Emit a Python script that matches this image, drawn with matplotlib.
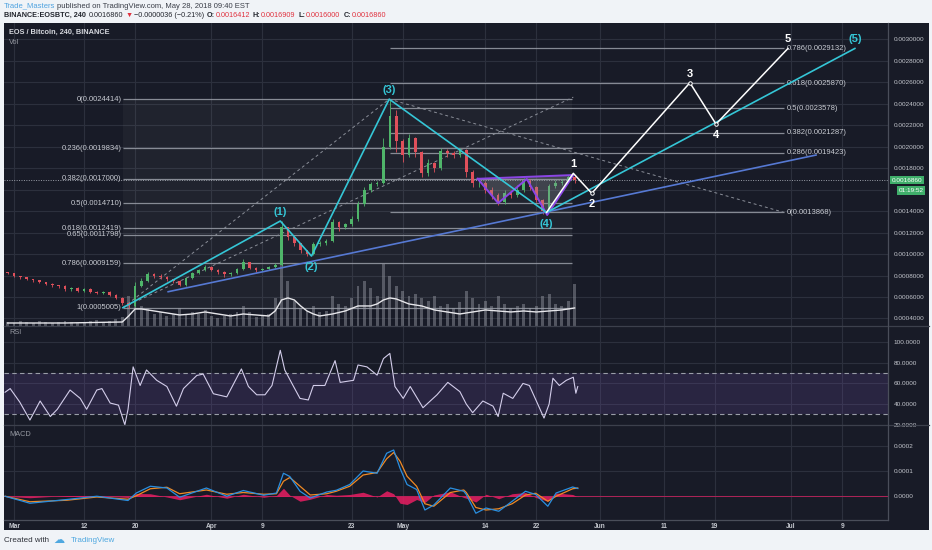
import matplotlib
matplotlib.use("Agg")
import matplotlib.pyplot as plt
from matplotlib.patches import Rectangle, Polygon
from matplotlib.lines import Line2D
import numpy as np

plt.rcParams['font.family'] = ['Liberation Sans', 'DejaVu Sans']

# ---- price data (one candle per day, day 0 = Mar 1 2018) ----
days = list(range(-1, 89))
first_open = 0.00083
closes = [0.00082, 0.00080, 0.00079, 0.00077, 0.00076, 0.00074, 0.00072, 0.00071, 0.00070, 0.00067,
          0.00068, 0.00066, 0.00067, 0.00065, 0.00064, 0.00065, 0.00062, 0.00059, 0.00054, 0.00052,
          0.00070, 0.00075, 0.00081, 0.00080, 0.00079, 0.00077, 0.00075, 0.00071, 0.00078, 0.00082,
          0.00085, 0.00088, 0.00085, 0.00083, 0.00081, 0.00082, 0.00086, 0.00093, 0.00087, 0.00085,
          0.00086, 0.00088, 0.00090, 0.00125, 0.00116, 0.00110, 0.00104, 0.00100, 0.00109, 0.00110,
          0.00112, 0.00130, 0.00125, 0.00128, 0.00133, 0.00147, 0.00160, 0.00165, 0.00166, 0.00200,
          0.00228, 0.00205, 0.00192, 0.00208, 0.00195, 0.00175, 0.00185, 0.00180, 0.00196, 0.00194,
          0.00192, 0.00197, 0.00176, 0.00166, 0.00166, 0.00160, 0.00155, 0.00148, 0.00157, 0.00155,
          0.00160, 0.00168, 0.00162, 0.00150, 0.00140, 0.00163, 0.00166, 0.00167, 0.00172, 0.0016860]
highs = [0.00083, 0.00082, 0.00080, 0.00079, 0.00077, 0.00076, 0.00074, 0.00073, 0.00071, 0.00071,
         0.00069, 0.00069, 0.00068, 0.00068, 0.00066, 0.00066, 0.00066, 0.00063, 0.00060, 0.00055,
         0.00074, 0.00078, 0.00083, 0.00082, 0.00081, 0.00080, 0.00077, 0.00076, 0.00079, 0.00083,
         0.00086, 0.00090, 0.00089, 0.00086, 0.00084, 0.00083, 0.00087, 0.00095, 0.00093, 0.00088,
         0.00087, 0.00089, 0.00092, 0.00131, 0.00124, 0.00117, 0.00110, 0.00104, 0.00111, 0.00112,
         0.00114, 0.00133, 0.00131, 0.00129, 0.00135, 0.00149, 0.00162, 0.00167, 0.00168, 0.00208,
         0.00244, 0.00234, 0.00207, 0.00212, 0.00209, 0.00196, 0.00188, 0.00186, 0.00199, 0.00198,
         0.00196, 0.00199, 0.00198, 0.00178, 0.00169, 0.00168, 0.00162, 0.00157, 0.00160, 0.00159,
         0.00164, 0.00171, 0.00170, 0.00163, 0.00151, 0.00165, 0.00169, 0.00170, 0.00174, 0.00173]
lows = [0.00081, 0.00079, 0.00077, 0.00076, 0.00074, 0.00073, 0.00071, 0.00069, 0.00068, 0.00066,
        0.00066, 0.00065, 0.00065, 0.00064, 0.00063, 0.00063, 0.00061, 0.00058, 0.00053, 0.00050,
        0.00051, 0.00069, 0.00074, 0.00078, 0.00077, 0.00075, 0.00073, 0.00070, 0.00070, 0.00077,
        0.00081, 0.00084, 0.00084, 0.00081, 0.00079, 0.00080, 0.00081, 0.00085, 0.00086, 0.00083,
        0.00084, 0.00085, 0.00087, 0.00089, 0.00113, 0.00107, 0.00101, 0.00098, 0.00099, 0.00107,
        0.00108, 0.00111, 0.00121, 0.00123, 0.00126, 0.00131, 0.00145, 0.00158, 0.00163, 0.00165,
        0.00198, 0.00195, 0.00186, 0.00190, 0.00190, 0.00172, 0.00173, 0.00176, 0.00178, 0.00190,
        0.00189, 0.00190, 0.00172, 0.00162, 0.00162, 0.00157, 0.00151, 0.00146, 0.00147, 0.00152,
        0.00153, 0.00158, 0.00160, 0.00148, 0.00137, 0.00139, 0.00161, 0.00164, 0.00166, 0.00166]
volume = [4, 3, 5, 4, 3, 5, 4, 3, 4, 5, 4, 3, 4, 5, 6, 4, 5, 7, 9,
          30, 22, 20, 18, 12, 14, 10, 12, 18, 12, 14, 12, 16, 10, 8, 10, 12, 14, 20, 14, 9,
          10, 12, 28, 72, 45, 25, 18, 15, 20, 14, 15, 30, 22, 20, 28, 40, 45, 38, 30, 62,
          50, 40, 35, 30, 32, 28, 25, 30, 20, 22, 18, 24, 35, 28, 22, 25, 20, 30, 22, 18,
          20, 22, 18, 20, 30, 32, 22, 20, 25, 42]
vol_ma_days = [-1, 8, 17, 18, 19, 20, 22, 24, 26, 28, 30, 32, 34, 36, 38, 40, 41, 42, 43, 44, 45,
               46, 47, 48, 50, 52, 54, 56, 57, 58, 59, 60, 62, 64, 66, 68, 70, 72, 74, 76, 78,
               80, 82, 84, 86, 88]
vol_ma = [3, 3, 4, 10, 17, 17, 15, 13, 11, 12, 14, 12, 10, 12, 11, 10, 15, 26, 28, 26, 20,
          15, 12, 10, 12, 15, 20, 20, 22, 26, 28, 27, 22, 20, 16, 14, 12, 14, 16, 15, 14,
          15, 14, 15, 16, 18]

# ---- drawings ----
fib1_labels = ['0', '0.236', '0.382', '0.5', '0.618', '0.65', '0.786', '1']
fib1_prices = [0.0024414, 0.0019834, 0.0017000, 0.0014710, 0.0012419, 0.0011798, 0.0009159, 0.0005005]
fib1_span = [17.1, 87.6]
fib2_labels = ['0', '0.286', '0.382', '0.5', '0.618', '0.786']
fib2_prices = [0.0013868, 0.0019423, 0.0021287, 0.0023578, 0.0025870, 0.0029132]
fib2_span = [59.0, 120.9]

wave_days = [17.1, 41.8, 46.7, 58.9, 83.6, 132.0]
wave_prices = [0.0005005, 0.001307, 0.000981, 0.0024414, 0.0013868, 0.0029132]
wave_labels = ['', '(1)', '(2)', '(3)', '(4)', '(5)']
sub_days = [83.6, 87.8, 90.7, 106.1, 110.2, 121.5]
sub_prices = [0.0013868, 0.001751, 0.001565, 0.002594, 0.002209, 0.0029132]
sub_labels = ['', '1', '2', '3', '4', '5']
trend_days = [24.2, 125.9]
trend_prices = [0.000649, 0.001921]
dash_lines = [([17.1, 58.9], [0.0005005, 0.0024414]),
              ([17.1, 87.8], [0.0005005, 0.00246]),
              ([58.9, 120.9], [0.0024414, 0.0013868])]
pat_days = [72.8, 76.0, 80.5, 83.7, 87.8]
pat_prices = [0.0017, 0.001474, 0.001698, 0.001363, 0.001735]

# ---- RSI ----
rsi_days = [-1.4, -0.6, 0.9, 2.5, 4.1, 5.7, 6.8, 8.8, 10.4, 11.4, 13.0, 13.8, 15.1, 16.4, 17.4, 17.9,
            18.7, 19.8, 20.8, 22.4, 24.0, 25.5, 26.6, 28.7, 29.7, 31.3, 33.4, 35.7, 36.8, 38.1, 39.4,
            40.5, 41.8, 42.5, 43.8, 44.9, 46.2, 47.0, 48.8, 50.4, 51.2, 53.3, 54.0, 55.4, 57.0, 58.0,
            59.0, 59.8, 61.1, 62.2, 64.2, 66.4, 68.1, 70.0, 71.0, 72.0, 73.6, 75.2, 76.0, 76.8, 78.3,
            79.9, 80.9, 82.0, 83.2, 84.0, 84.6, 85.6, 86.7, 87.8, 88.2, 88.5]
rsi_vals = [51.5, 55, 42, 24.6, 43, 28, 35, 53.6, 45.5, 35, 53.6, 55, 41, 39, 20, 35,
            76, 58, 73, 63, 57, 38, 55, 67.7, 69, 50, 47, 74, 57, 49, 49,
            58, 92, 73, 58, 45.5, 44, 58, 58, 82, 61, 63, 77.8, 76, 68, 84,
            89, 57, 45.5, 57, 36.5, 49, 61, 52, 40, 31.7, 43, 38, 28, 50.5, 45.5,
            60, 58, 43, 26.5, 40, 65, 58, 63, 66, 50.5, 57]

# ---- MACD (units of 0.0001) ----
macd_days = [-1.4, 2.5, 8.3, 13, 17.9, 19.2, 21.4, 24, 26, 30.2, 33.4, 36, 39.2, 41.2, 42.3, 43.3,
             44.9, 46.5, 49.1, 50.6, 52.7, 54.8, 57, 58.5, 59.6, 60.6, 61.7, 63.2, 64.5, 65.9, 68.5,
             70.6, 71, 72.5, 74.1, 76.1, 78.2, 80.3, 81.9, 83.8, 85.1, 87.7, 88.5]
macd_line = [0, -0.28, -0.13, 0, -0.17, 0.13, 0.4, 0.33, -0.04, 0.33, 0, 0.23, 0.04, 0.13, 0.92, 0.79,
             0.2, -0.07, 0.17, 0.24, 0.47, 1.01, 0.92, 1.72, 1.85, 1.12, 0.47, 0.27, -0.55, -0.35, 0.33,
             0.2, 0.07, -0.68, -0.47, -0.6, -0.2, 0.2, 0.07, -0.4, 0.13, 0.37, 0.31]
signal_line = [0, -0.22, -0.16, -0.03, -0.12, 0.02, 0.3, 0.36, 0.1, 0.25, 0.08, 0.15, 0.08, 0.1, 0.6, 0.75,
               0.4, 0.05, 0.1, 0.2, 0.4, 0.85, 0.95, 1.5, 1.75, 1.4, 0.8, 0.4, -0.3, -0.4, 0.15,
               0.25, 0.15, -0.45, -0.55, -0.5, -0.3, 0.05, 0.12, -0.2, 0.0, 0.3, 0.33]

tick_days = [0, 11, 19, 31, 39, 53, 61, 74, 82, 92, 102, 110, 122, 130]
tick_labels = ['Mar', '12', '20', 'Apr', '9', '23', 'May', '14', '22', 'Jun', '11', '19', 'Jul', '9']

BG = '#181b27'
GRID = '#2c303d'
TXT = '#c3c6cd'
FIBC = '#9a9ea8'
CYAN = '#35c6d6'
W, H = 932, 550


def fx(x):
    return x / W


def fy(y):
    return 1 - y / H


fig = plt.figure(figsize=(9.32, 5.5), dpi=100, facecolor='#f0f3f7')
fig.patches.append(Rectangle((fx(4), fy(530)), fx(925), 507 / H, transform=fig.transFigure,
                             facecolor=BG, edgecolor='none', zorder=-5))

left, width = fx(4), fx(884)
ax = fig.add_axes([left, fy(326), width, 303 / H])
ax_rsi = fig.add_axes([left, fy(425), width, 99 / H], sharex=ax)
ax_macd = fig.add_axes([left, fy(520), width, 95 / H], sharex=ax)

for a in (ax, ax_rsi, ax_macd):
    a.set_facecolor(BG)
    a.set_zorder(2)
    for s in a.spines.values():
        s.set_visible(False)
    a.yaxis.tick_right()
    a.tick_params(axis='y', colors=TXT, labelsize=4.6, length=0, pad=4)
    a.tick_params(axis='x', length=0, labelbottom=False)
    a.grid(True, color=GRID, lw=0.8)
    a.set_axisbelow(True)

ax.set_xlim(-1.57, 137.2)
ax.set_xticks(tick_days)

# main pane
ax.set_ylim(0.00033, 0.00315)
ax.set_yticks(np.arange(0.0004, 0.00301, 0.0002))
ax.yaxis.set_major_formatter(matplotlib.ticker.FuncFormatter(
    lambda v, _: '' if abs(v - 0.0016) < 1e-6 else f'{v:.7f}'))

# fib retracement (left)
ax.fill_between(fib1_span, fib1_prices[-1], fib1_prices[0], color='white', alpha=0.035, lw=0, zorder=1)
ax.hlines(fib1_prices, fib1_span[0], fib1_span[1], color=FIBC, lw=0.9, alpha=0.85, zorder=2)
for lab, p in zip(fib1_labels, fib1_prices):
    ax.annotate(f'{lab}({p:.7f})', xy=(fib1_span[0], p), xytext=(-1, 0), textcoords='offset points',
                ha='right', va='center', color='#c8cbd2', fontsize=5.5)

# fib extension (right)
ax.hlines(fib2_prices, fib2_span[0], fib2_span[1], color=FIBC, lw=0.9, alpha=0.85, zorder=2)
for lab, p in zip(fib2_labels, fib2_prices):
    ax.annotate(f'{lab}({p:.7f})', xy=(fib2_span[1], p), xytext=(2, 0), textcoords='offset points',
                ha='left', va='center', color='#c8cbd2', fontsize=5.5)

for dx, dp in dash_lines:
    ax.plot(dx, dp, color='#8a8e98', lw=0.7, ls=(0, (3, 3)), zorder=2)

# current price line
ax.axhline(closes[-1], color='#9a9ea8', lw=0.7, ls=(0, (1, 1.5)), zorder=2)

# volume overlay
vol_top = max(volume) * 4.2
ax.bar(days, [v / vol_top for v in volume], width=0.45, bottom=0, color='#8d909a', alpha=0.5,
       transform=ax.get_xaxis_transform(), zorder=1)
ax.plot(vol_ma_days, [v / vol_top for v in vol_ma], color='#e6e6ea', lw=1.0,
        transform=ax.get_xaxis_transform(), zorder=2)

# candles
opens = [first_open] + closes[:-1]
cols = ['#4fb56a' if c >= o else '#e0505b' for o, c in zip(opens, closes)]
ax.vlines(days, lows, highs, color=cols, lw=0.6, zorder=3)
ax.bar(days, [abs(c - o) for o, c in zip(opens, closes)], bottom=[min(o, c) for o, c in zip(opens, closes)],
       width=0.42, color=cols, zorder=3)

# pattern
pat = Polygon(list(zip(pat_days, pat_prices)), closed=True, facecolor='#9598a1', alpha=0.28,
              edgecolor='none', zorder=3)
ax.add_patch(pat)
ax.plot(pat_days + [pat_days[0]], pat_prices + [pat_prices[0]], color='#8b45e6', lw=1.4, zorder=4)

# trendline and waves
ax.plot(trend_days, trend_prices, color='#5679d3', lw=1.2, zorder=4)
ax.plot(wave_days, wave_prices, color=CYAN, lw=1.2, zorder=5)
ax.plot(sub_days, sub_prices, color='white', lw=1.1, zorder=5)
ax.plot(sub_days[2:5], sub_prices[2:5], ls='none', marker='o', ms=2.5, mfc=BG, mec='white', mew=0.7, zorder=6)

for i, (d, p, lab) in enumerate(zip(wave_days, wave_prices, wave_labels)):
    if lab:
        off = 6.5 if i % 2 == 1 else -8
        ax.annotate(lab, xy=(d, p), xytext=(0, off), textcoords='offset points', ha='center',
                    va='center', color=CYAN, fontsize=8, fontweight='bold', zorder=7)
for i, (d, p, lab) in enumerate(zip(sub_days, sub_prices, sub_labels)):
    if lab:
        off = 6.5 if i % 2 == 1 else -8
        ax.annotate(lab, xy=(d, p), xytext=(0, off), textcoords='offset points', ha='center',
                    va='center', color='white', fontsize=8, fontweight='bold', zorder=7)

# last price boxes
ax.text(1.004, closes[-1], f'{closes[-1]:.7f}', transform=ax.get_yaxis_transform(), ha='left',
        va='center', color='white', fontsize=4.6,
        bbox=dict(boxstyle='square,pad=0.25', fc='#3fae6a', ec='none'), zorder=8, clip_on=False)
ax.annotate('01:19:52', xy=(1.012, closes[-1]), xycoords=ax.get_yaxis_transform(), xytext=(0, -7.3),
            textcoords='offset points', ha='left', va='center', color='white', fontsize=4.6,
            bbox=dict(boxstyle='square,pad=0.25', fc='#3fae6a', ec='none'), zorder=8, annotation_clip=False)

ax.text(0.006, 0.97, 'EOS / Bitcoin, 240, BINANCE', transform=ax.transAxes, color='#d6d8de',
        fontsize=5.3, fontweight='bold', va='center')
ax.text(0.006, 0.935, 'Vol', transform=ax.transAxes, color='#9598a1', fontsize=5.3, va='center')

# RSI pane
ax_rsi.set_ylim(19.8, 115.5)
ax_rsi.set_yticks([20, 40, 60, 80, 100])
ax_rsi.yaxis.set_major_formatter(matplotlib.ticker.FormatStrFormatter('%.4f'))
ax_rsi.axhspan(30, 70, color='#7e57c2', alpha=0.17, lw=0)
ax_rsi.axhline(70, color='#9a9ea8', lw=0.8, ls=(0, (4, 3)))
ax_rsi.axhline(30, color='#9a9ea8', lw=0.8, ls=(0, (4, 3)))
ax_rsi.plot(rsi_days, rsi_vals, color='#d3cdea', lw=0.8)
ax_rsi.text(0.006, 0.93, 'RSI', transform=ax_rsi.transAxes, color='#9598a1', fontsize=5.3, va='center')

# MACD pane
ax_macd.set_ylim(-0.95, 2.85)
ax_macd.set_yticks([0, 1, 2])
ax_macd.yaxis.set_major_formatter(matplotlib.ticker.FuncFormatter(lambda v, _: f'{v * 1e-4:.4f}'))
hist = np.array(macd_line) - np.array(signal_line)
ax_macd.fill_between(macd_days, hist, 0, color='#e91e63', alpha=0.85, lw=0)
ax_macd.axhline(0, color='#e91e63', lw=0.6, alpha=0.8)
ax_macd.plot(macd_days, signal_line, color='#f08a24', lw=0.9)
ax_macd.plot(macd_days, macd_line, color='#2a8fe0', lw=0.9)
ax_macd.text(0.006, 0.9, 'MACD', transform=ax_macd.transAxes, color='#9598a1', fontsize=5.3, va='center')
ax_macd.tick_params(axis='x', labelbottom=True, colors=TXT, labelsize=4.8, pad=2)
ax_macd.set_xticklabels(tick_labels, fontweight='bold')

# separators
for y0 in (326, 425):
    fig.add_artist(Line2D([fx(4), fx(929)], [fy(y0), fy(y0)], color='#3c404c', lw=0.9, zorder=5))
fig.add_artist(Line2D([fx(4), fx(888)], [fy(520), fy(520)], color='#4a4e5a', lw=0.9, zorder=5))
fig.add_artist(Line2D([fx(888), fx(888)], [fy(23), fy(520)], color='#4a4e5a', lw=0.9, zorder=5))

# header: chain pieces left to right
renderer = fig.canvas.get_renderer()


def chain(pieces, x0, y0, size):
    x = fx(x0)
    for s, c, wgt, gap in pieces:
        t = fig.text(x, fy(y0), s, color=c, fontsize=size, fontweight=wgt, va='center')
        bb = t.get_window_extent(renderer)
        x = (bb.x1 + gap) / W


dark = '#22252d'
red = '#e0313e'
chain([('Trade_Masters', '#4fa3e0', 'normal', 2),
       ('published on TradingView.com, May 28, 2018 09:40 EST', '#3a3e48', 'normal', 0)], 4, 6, 5.5)
chain([('BINANCE:EOSBTC, 240', dark, 'bold', 3), ('0.0016860', dark, 'normal', 2),
       ('▼', red, 'normal', 1), ('−0.0000036 (−0.21%)', dark, 'normal', 3),
       ('O:', dark, 'bold', 0.5), ('0.0016412', red, 'normal', 3),
       ('H:', dark, 'bold', 0.5), ('0.0016909', red, 'normal', 3),
       ('L:', dark, 'bold', 0.5), ('0.0016000', red, 'normal', 3),
       ('C:', dark, 'bold', 0.5), ('0.0016860', red, 'normal', 0)], 4, 15.5, 5.2)

# footer
fig.text(fx(4), fy(540), 'Created with', color='#2f323a', fontsize=5.8, va='center')
fig.text(fx(53), fy(540), '☁', color='#4fa8e0', fontsize=8, va='center', family='DejaVu Sans')
fig.text(fx(71), fy(540), 'TradingView', color='#4fa8e0', fontsize=5.8, va='center')

fig.savefig('out.png', dpi=100, facecolor=fig.get_facecolor())
